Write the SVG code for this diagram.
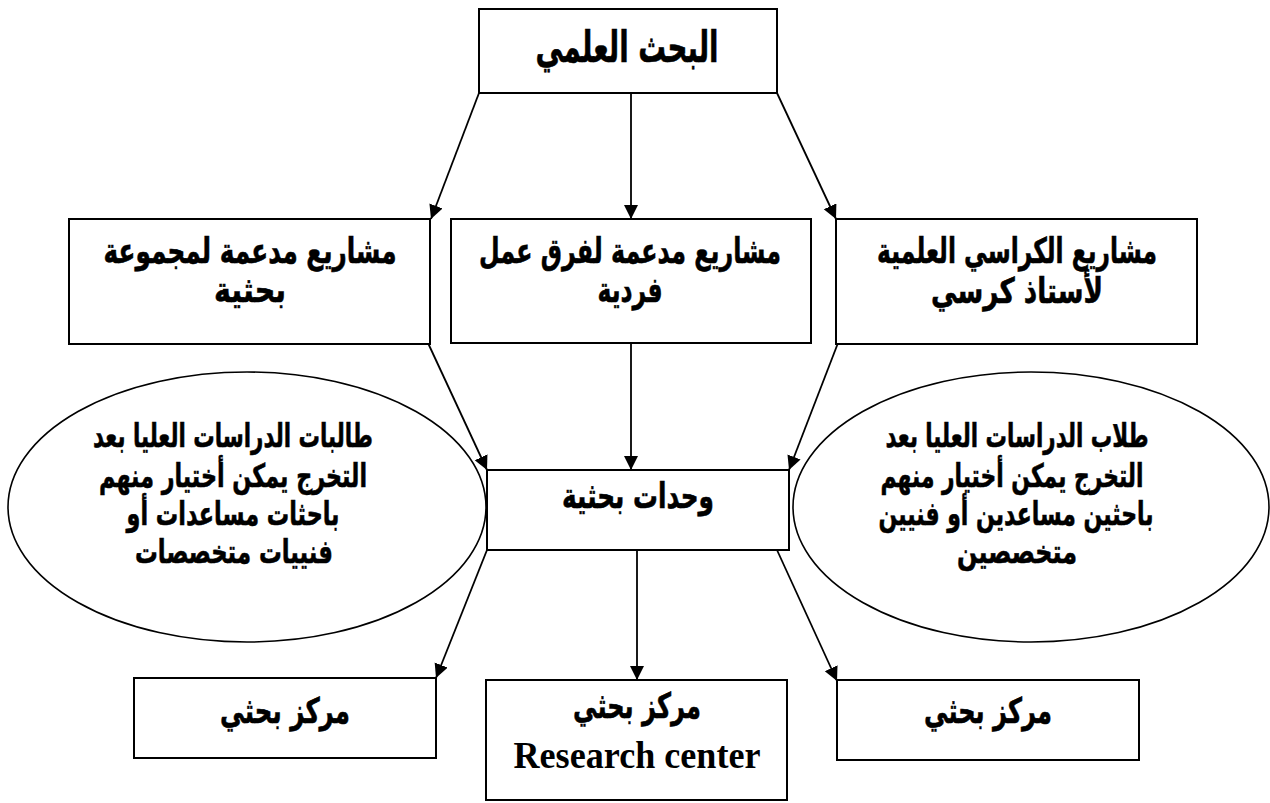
<svg xmlns="http://www.w3.org/2000/svg" width="1270" height="803" viewBox="0 0 1270 803">
  <style>
    .box { fill: #ffffff; stroke: #000000; stroke-width: 2; }
    .oval { fill: none; stroke: #000000; stroke-width: 1.6; }
    .link { fill: none; stroke: #000000; stroke-width: 1.8; marker-end: url(#arrow); }
    .ar { font-family: "DejaVu Sans", "Noto Sans", sans-serif; font-weight: bold; fill: #000000; stroke: #000000; stroke-width: 0.45; text-anchor: middle; }
    .en { font-family: "Liberation Serif", "Times New Roman", serif; font-weight: bold; fill: #000000; text-anchor: middle; }
  </style>
  <defs>
    <marker id="arrow" markerUnits="userSpaceOnUse" markerWidth="15" markerHeight="15" refX="14" refY="7" orient="auto">
      <path d="M0,0 L14,7 L0,14 z" fill="#000000"/>
    </marker>
  </defs>
  <rect width="1270" height="803" fill="#ffffff"/>

  <!-- connectors -->
  <g id="connectors">
    <line class="link" x1="479" y1="93" x2="431" y2="219"/>
    <line class="link" x1="631" y1="93" x2="631" y2="219"/>
    <line class="link" x1="777" y1="93" x2="836" y2="219"/>
    <line class="link" x1="428" y1="343" x2="487" y2="470"/>
    <line class="link" x1="631" y1="343" x2="631" y2="470"/>
    <line class="link" x1="838" y1="343" x2="789" y2="470"/>
    <line class="link" x1="487" y1="550" x2="436" y2="678"/>
    <line class="link" x1="637" y1="550" x2="637" y2="680"/>
    <line class="link" x1="777" y1="550" x2="837" y2="681"/>
  </g>

  <!-- top (Arabic lines are drawn slightly tall: scale(1,1.35) about the baseline) -->
  <g id="node-research">
    <rect class="box" x="479" y="9" width="298" height="84"/>
    <text class="ar" transform="translate(627,62) scale(1,1.35)" font-size="32" textLength="183" lengthAdjust="spacingAndGlyphs">البحث العلمي</text>
  </g>

  <!-- project types -->
  <g id="node-group-projects">
    <rect class="box" x="69" y="219" width="361" height="125"/>
    <text class="ar" transform="translate(250,263) scale(1,1.35)" font-size="26" textLength="293" lengthAdjust="spacingAndGlyphs">مشاريع مدعمة لمجموعة</text>
    <text class="ar" transform="translate(250,302) scale(1,1.35)" font-size="26" textLength="72" lengthAdjust="spacingAndGlyphs">بحثية</text>
  </g>
  <g id="node-team-projects">
    <rect class="box" x="451" y="219" width="360" height="124"/>
    <text class="ar" transform="translate(630,263) scale(1,1.35)" font-size="26" textLength="302" lengthAdjust="spacingAndGlyphs">مشاريع مدعمة لفرق عمل</text>
    <text class="ar" transform="translate(630,302) scale(1,1.35)" font-size="26" textLength="65" lengthAdjust="spacingAndGlyphs">فردية</text>
  </g>
  <g id="node-chair-projects">
    <rect class="box" x="836" y="219" width="361" height="125"/>
    <text class="ar" transform="translate(1017,263) scale(1,1.35)" font-size="26" textLength="280" lengthAdjust="spacingAndGlyphs">مشاريع الكراسي العلمية</text>
    <text class="ar" transform="translate(1017,303) scale(1,1.35)" font-size="26" textLength="172" lengthAdjust="spacingAndGlyphs">لأستاذ كرسي</text>
  </g>

  <!-- graduate students -->
  <g id="node-female-students">
    <ellipse class="oval" cx="247" cy="507" rx="239" ry="135"/>
    <text class="ar" transform="translate(233,447) scale(1,1.35)" font-size="24" textLength="280" lengthAdjust="spacingAndGlyphs">طالبات الدراسات العليا بعد</text>
    <text class="ar" transform="translate(233,487) scale(1,1.35)" font-size="24" textLength="268" lengthAdjust="spacingAndGlyphs">التخرج يمكن أختيار منهم</text>
    <text class="ar" transform="translate(233,525) scale(1,1.35)" font-size="24" textLength="213" lengthAdjust="spacingAndGlyphs">باحثات مساعدات أو</text>
    <text class="ar" transform="translate(234,563) scale(1,1.35)" font-size="24" textLength="198" lengthAdjust="spacingAndGlyphs">فنييات متخصصات</text>
  </g>
  <g id="node-male-students">
    <ellipse class="oval" cx="1031" cy="507" rx="238" ry="135"/>
    <text class="ar" transform="translate(1017,447) scale(1,1.35)" font-size="24" textLength="263" lengthAdjust="spacingAndGlyphs">طلاب الدراسات العليا بعد</text>
    <text class="ar" transform="translate(1012,487) scale(1,1.35)" font-size="24" textLength="263" lengthAdjust="spacingAndGlyphs">التخرج يمكن أختيار منهم</text>
    <text class="ar" transform="translate(1016,525) scale(1,1.35)" font-size="24" textLength="275" lengthAdjust="spacingAndGlyphs">باحثين مساعدين أو فنيين</text>
    <text class="ar" transform="translate(1017,563) scale(1,1.35)" font-size="24" textLength="120" lengthAdjust="spacingAndGlyphs">متخصصين</text>
  </g>

  <!-- research units -->
  <g id="node-units">
    <rect class="box" x="487" y="470" width="302" height="80"/>
    <text class="ar" transform="translate(638,508) scale(1,1.35)" font-size="26" textLength="152" lengthAdjust="spacingAndGlyphs">وحدات بحثية</text>
  </g>

  <!-- research centres -->
  <g id="node-center-left">
    <rect class="box" x="134" y="678" width="302" height="80"/>
    <text class="ar" transform="translate(285,723) scale(1,1.35)" font-size="26" textLength="130" lengthAdjust="spacingAndGlyphs">مركز بحثي</text>
  </g>
  <g id="node-center-main">
    <rect class="box" x="486" y="680" width="301" height="120"/>
    <text class="ar" transform="translate(637,718) scale(1,1.35)" font-size="26" textLength="128" lengthAdjust="spacingAndGlyphs">مركز بحثي</text>
    <text class="en" x="637" y="768" font-size="37" textLength="247" lengthAdjust="spacingAndGlyphs">Research center</text>
  </g>
  <g id="node-center-right">
    <rect class="box" x="837" y="680" width="302" height="80"/>
    <text class="ar" transform="translate(988,723) scale(1,1.35)" font-size="26" textLength="128" lengthAdjust="spacingAndGlyphs">مركز بحثي</text>
  </g>
</svg>
